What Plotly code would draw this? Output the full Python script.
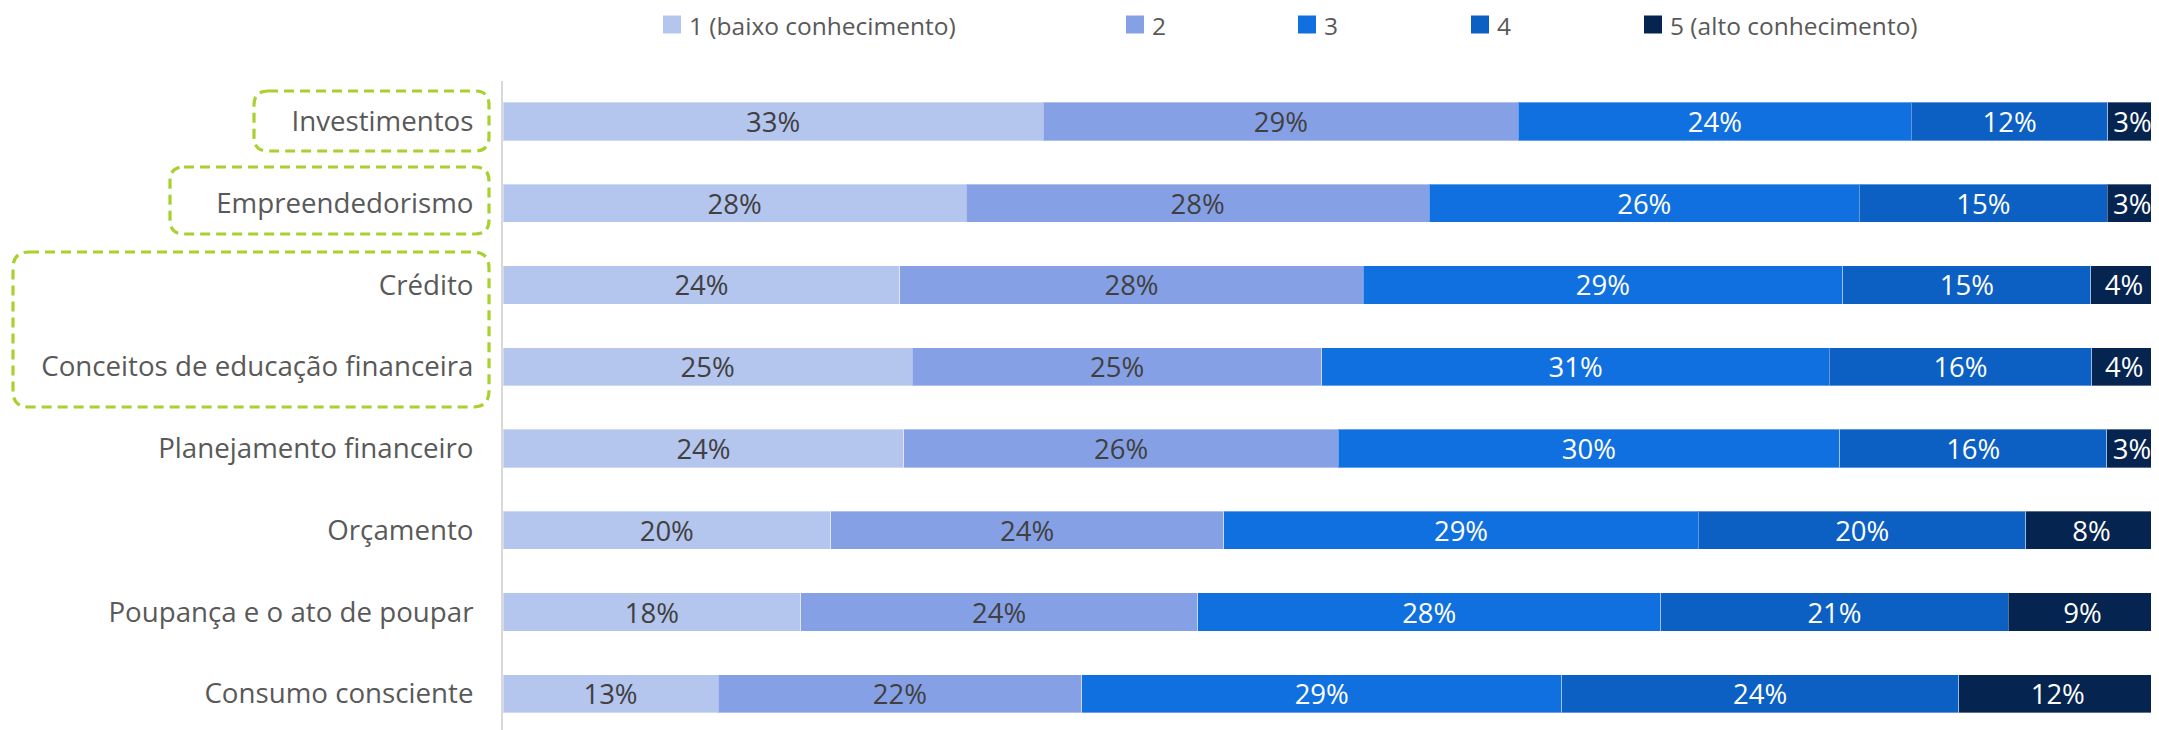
import plotly.graph_objects as go

categories = [
    "Investimentos",
    "Empreendedorismo",
    "Crédito",
    "Conceitos de educação financeira",
    "Planejamento financeiro",
    "Orçamento",
    "Poupança e o ato de poupar",
    "Consumo consciente",
]
level_names = ["1 (baixo conhecimento)", "2", "3", "4", "5 (alto conhecimento)"]
level1 = [33, 28, 24, 25, 24, 20, 18, 13]
level2 = [29, 28, 28, 25, 26, 24, 24, 22]
level3 = [24, 26, 29, 31, 30, 29, 28, 29]
level4 = [12, 15, 15, 16, 16, 20, 21, 24]
level5 = [3, 3, 4, 4, 3, 8, 9, 12]
series = [level1, level2, level3, level4, level5]

colors = ["#B4C5EE", "#86A0E6", "#1170E0", "#0C60C4", "#05244F"]
text_colors = ["#404040", "#404040", "#FFFFFF", "#FFFFFF", "#FFFFFF"]

# the page body adds an 8px offset; page coordinates below are converted
OFF = 8
W, H = 2159 - OFF, 730 - OFF
L, R, T, B = 503 - OFF, 2, 81 - OFF, 0
PW, PH = W - L - R, H - T - B

fig = go.Figure()
for name, vals, col, tcol in zip(level_names, series, colors, text_colors):
    fig.add_trace(go.Bar(
        y=categories, x=vals, name=name, orientation="h",
        marker=dict(color=col, line=dict(color="rgba(255,255,255,0.35)", width=1)),
        text=[f"{v}%" for v in vals], textposition="inside",
        insidetextanchor="middle", textangle=0,
        textfont=dict(family="Open Sans", size=27.5, color=tcol),
        hoverinfo="skip", showlegend=False,
    ))


def px2paper(x, y):
    """page pixel -> paper coords"""
    x -= OFF
    y -= OFF
    return (x - L) / PW, (H - B - y) / PH


shapes = []
annotations = []

# legend (squares + text)
legend_sq_x = [663, 1126, 1298, 1471, 1644]
for name, col, sx in zip(level_names, colors, legend_sq_x):
    x0, y0 = px2paper(sx, 15.5)
    x1, y1 = px2paper(sx + 18, 33.5)
    shapes.append(dict(type="rect", xref="paper", yref="paper", x0=x0, x1=x1,
                       y0=y1, y1=y0, fillcolor=col, line=dict(width=0), layer="above"))
    tx, ty = px2paper(sx + 25, 25.5)
    annotations.append(dict(text=name, xref="paper", yref="paper", x=tx, y=ty,
                            xanchor="left", yanchor="middle", showarrow=False,
                            borderpad=0,
                            font=dict(family="Open Sans", size=24.5, color="#595959")))


def rounded_box(x0, y0, x1, y1, r):
    def p(x, y):
        a, b = px2paper(x, y)
        return f"{a:.6f},{b:.6f}"
    path = (
        f"M{p(x0 + r, y0)} L{p(x1 - r, y0)} Q{p(x1, y0)} {p(x1, y0 + r)} "
        f"L{p(x1, y1 - r)} Q{p(x1, y1)} {p(x1 - r, y1)} "
        f"L{p(x0 + r, y1)} Q{p(x0, y1)} {p(x0, y1 - r)} "
        f"L{p(x0, y0 + r)} Q{p(x0, y0)} {p(x0 + r, y0)} Z"
    )
    return dict(type="path", xref="paper", yref="paper", path=path,
                line=dict(color="#A8D12F", width=3.2, dash="10px,6px"),
                fillcolor="rgba(0,0,0,0)", layer="above")


shapes.append(rounded_box(254, 91, 489, 151, 14))
shapes.append(rounded_box(170, 167, 489, 234, 14))
shapes.append(rounded_box(13, 252, 489, 407, 16))

fig.update_layout(
    barmode="stack", barnorm="percent", bargap=0.53,
    width=W, height=H,
    margin=dict(l=L, r=R, t=T, b=B, pad=0, autoexpand=False),
    paper_bgcolor="white", plot_bgcolor="white",
    shapes=shapes, annotations=annotations,
    uniformtext=dict(minsize=26, mode="show"),
    xaxis=dict(range=[0, 100], visible=False, fixedrange=True),
    yaxis=dict(
        type="category", categoryorder="array", categoryarray=categories,
        range=[7.443, -0.495], showgrid=False, zeroline=False,
        showline=True, linecolor="#D9D9D9", linewidth=2,
        ticks="outside", ticklen=22, tickcolor="rgba(0,0,0,0)",
        tickfont=dict(family="Open Sans", size=27.7, color="#595959"),
        fixedrange=True, automargin=False,
    ),
    font=dict(family="Open Sans"),
)

fig.write_html("out.html")
